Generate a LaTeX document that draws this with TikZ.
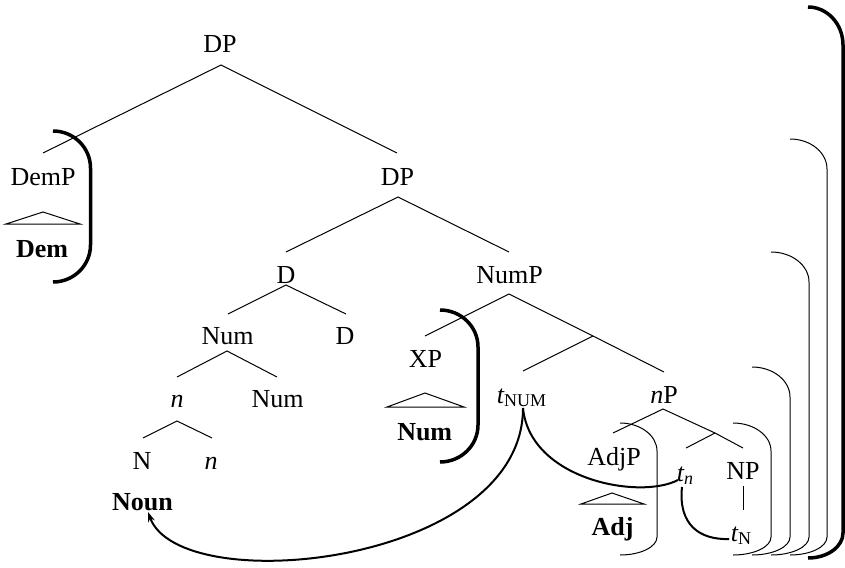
\documentclass[tikz,border=0pt]{standalone}
\usepackage{fontspec}
\setmainfont{Liberation Serif}
\usetikzlibrary{arrows.meta}
\newcommand{\subx}[1]{\raisebox{-3pt}{\fontsize{18}{18}\selectfont #1}}
% #1 style, #2 left x, #3 right x, #4 top y, #5 bottom y, #6 top radius y, #7 bottom radius y
\newcommand{\mybracket}[7]{%
  \draw[#1] (#2,#4) .. controls ({#2+0.552*(#3-#2)},#4) and (#3,{#4+0.448*#6}) .. (#3,{#4+#6})
    -- (#3,{#5-#7}) .. controls (#3,{#5-0.448*#7}) and ({#2+0.552*(#3-#2)},#5) .. (#2,#5);}
\begin{document}
\begin{tikzpicture}[x=1pt,y=-1pt,
  lab/.style={anchor=base,inner sep=0pt,font=\fontsize{26}{30}\selectfont},
  boldlab/.style={lab,font=\fontsize{26}{30}\selectfont\bfseries},
  tree/.style={line width=1pt},
  curve/.style={line width=2pt},
  thickbr/.style={line width=3.5pt},
  thinbr/.style={line width=1pt}]
\useasboundingbox (0,0) rectangle (845,567);

% nodes
\node[lab] (dp1) at (220,53) {DP};
\node[lab] (demp) at (43,185) {DemP};
\node[boldlab] (dem) at (42,257) {Dem};
\node[lab] (dp2) at (397.5,185) {DP};
\node[lab] (d1) at (286,283) {D};
\node[lab] (nump) at (509.5,283) {NumP};
\node[lab] (num1) at (227.5,344) {Num};
\node[lab] (d2) at (345,344) {D};
\node[lab] (xp) at (425.5,367) {XP};
\node[boldlab] (numb) at (424.7,440) {Num};
\node[lab] (n1) at (177,407) {\itshape n};
\node[lab] (num2) at (277.5,407) {Num};
\node[lab] (tnum) at (521.5,403) {{\itshape t}\subx{NUM}};
\node[lab] (np) at (664,403) {{\itshape n}P};
\node[lab] (N) at (142,469) {N};
\node[lab] (n2) at (211,469) {\itshape n};
\node[boldlab] (noun) at (142.5,510) {Noun};
\node[lab] (adjp) at (614,465) {AdjP};
\node[boldlab] (adj) at (612.5,535) {Adj};
\node[lab] (tn) at (685,481.5) {{\itshape t}\subx{\itshape n}};
\node[lab] (NP) at (743,479) {NP};
\node[lab] (tN) at (741,541) {{\itshape t}\subx{N}};

% edge coordinates
\coordinate (dp1b) at (221,65);
\coordinate (dempt) at (43,153);
\coordinate (dp2t) at (397,153);
\coordinate (dp2b) at (398,197);
\coordinate (d1t) at (286,252);
\coordinate (numpt) at (509,252);
\coordinate (d1b) at (286,285);
\coordinate (num1t) at (228,314);
\coordinate (d2t) at (346,314);
\coordinate (num1b) at (227,351);
\coordinate (n1t) at (177,377);
\coordinate (num2t) at (277,377);
\coordinate (n1b) at (177,421);
\coordinate (Nt) at (143,438);
\coordinate (n2t) at (212,438);
\coordinate (numpb) at (509,294);
\coordinate (xpt) at (425,336);
\coordinate (mid1) at (593,336);
\coordinate (npt) at (664,372);
\coordinate (tnumt) at (523,371);
\coordinate (npb) at (663,409);
\coordinate (adjpt) at (613,433);
\coordinate (mid2) at (715,433);
\coordinate (NPt) at (743,448);
\coordinate (tnt) at (686,448);
\coordinate (NPb) at (743,486);
\coordinate (tNt) at (743,510);

\draw[tree] (dempt) -- (dp1b) -- (dp2t);
\draw[tree] (d1t) -- (dp2b) -- (numpt);
\draw[tree] (num1t) -- (d1b) -- (d2t);
\draw[tree] (n1t) -- (num1b) -- (num2t);
\draw[tree] (Nt) -- (n1b) -- (n2t);
\draw[tree] (xpt) -- (numpb) -- (mid1) -- (npt);
\draw[tree] (tnumt) -- (mid1);
\draw[tree] (adjpt) -- (npb) -- (mid2) -- (NPt);
\draw[tree] (tnt) -- (mid2);
\draw[tree] (NPb) -- (tNt);

% triangles
\coordinate (t1a) at (43,212); \coordinate (t1l) at (6,224); \coordinate (t1r) at (80,224);
\coordinate (t2a) at (425,393); \coordinate (t2l) at (387,407); \coordinate (t2r) at (464,407);
\coordinate (t3a) at (612,493); \coordinate (t3l) at (581,504); \coordinate (t3r) at (644,504);
\draw[tree] (t1a) -- (t1l) -- (t1r) -- cycle;
\draw[tree] (t2a) -- (t2l) -- (t2r) -- cycle;
\draw[tree] (t3a) -- (t3l) -- (t3r) -- cycle;

% movement curves
\coordinate (tnumb) at (523,408);
\coordinate (nounb) at (148,512);
\coordinate (tnl) at (678,480);
\coordinate (tnb) at (682,487);
\coordinate (tNl) at (729,539);
\draw[curve,-{Stealth[length=10pt,width=7pt]}] (tnumb) .. controls (523,565) and (180,600) .. (nounb);
\draw[curve] (tnumb) .. controls (530,480) and (640,500) .. (tnl);
\draw[curve] (tnb) .. controls (678,525) and (700,540) .. (tNl);

% brackets
\mybracket{thickbr}{53}{90.5}{131}{282}{37}{37}
\mybracket{thickbr}{440}{478}{310}{462}{37}{37}
\mybracket{thinbr}{620}{657}{423}{555}{28}{18}
\mybracket{thinbr}{733}{771}{423}{555}{28}{18}
\mybracket{thinbr}{752}{790}{367}{555}{30}{18}
\mybracket{thinbr}{771}{809}{252}{555}{30}{18}
\mybracket{thinbr}{790}{827}{139}{555}{30}{18}
\mybracket{thickbr}{808}{843}{7}{558}{38}{25}
\end{tikzpicture}
\end{document}
